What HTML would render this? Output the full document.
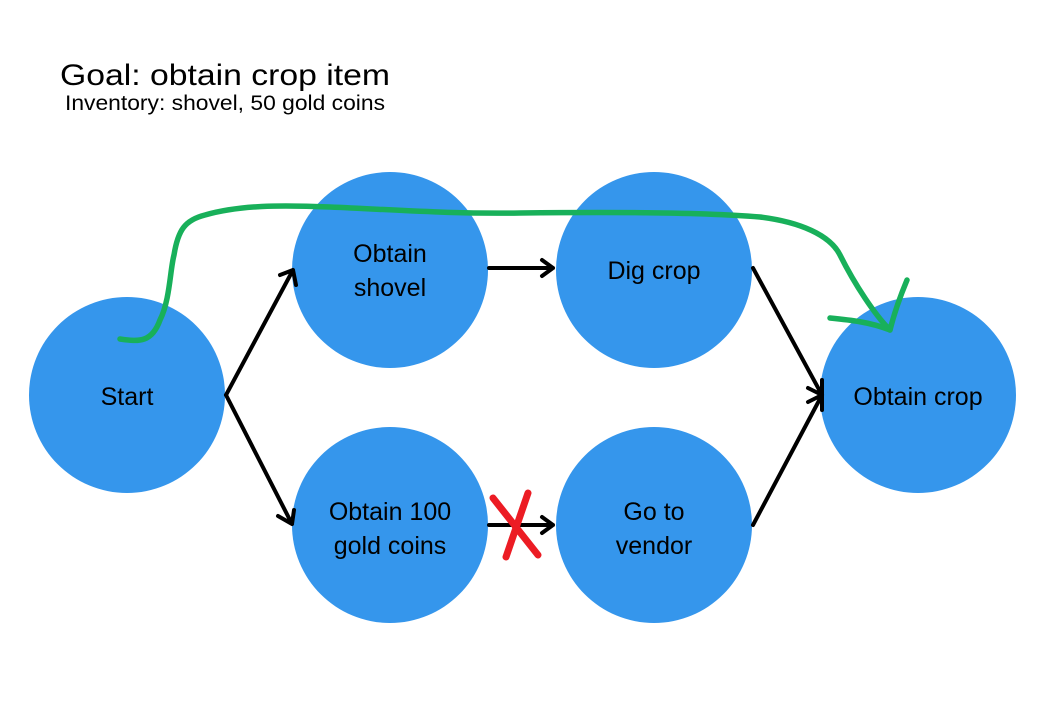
<!DOCTYPE html>
<html><head><style>
body{margin:0;background:#fff;}
svg{display:block;}
text{font-family:"Liberation Sans",sans-serif;fill:#000;}
</style></head><body>
<svg width="1061" height="718" viewBox="0 0 1061 718">
<text x="60" y="85" font-size="30" textLength="330" lengthAdjust="spacingAndGlyphs">Goal: obtain crop item</text>
<text x="65" y="110" font-size="21" textLength="320" lengthAdjust="spacingAndGlyphs">Inventory: shovel, 50 gold coins</text>
<g fill="#3596ec">
<circle cx="127" cy="395" r="98"/>
<circle cx="390" cy="270" r="98"/>
<circle cx="654" cy="270" r="98"/>
<circle cx="390" cy="525" r="98"/>
<circle cx="654" cy="525" r="98"/>
<circle cx="918" cy="395" r="98"/>
</g>
<g font-size="25" text-anchor="middle">
<text x="127" y="405">Start</text>
<text x="390" y="262">Obtain</text>
<text x="390" y="296">shovel</text>
<text x="654" y="279">Dig crop</text>
<text x="390" y="520">Obtain 100</text>
<text x="390" y="554">gold coins</text>
<text x="654" y="520">Go to</text>
<text x="654" y="554">vendor</text>
<text x="918" y="405">Obtain crop</text>
</g>
<g stroke="#000" stroke-width="4" fill="none" stroke-linecap="round" stroke-linejoin="round">
<path d="M226 395 L293 270 M280 275 L293 270 L296 285"/>
<path d="M226 395 L292 524 M278 516 L292 524 L294 510"/>
<path d="M489 268 L553 268 M542 260 L553 268 L542 276"/>
<path d="M489 525 L553 525 M542 517 L553 525 L542 533"/>
<path d="M753 268 L822 395 M808 388 L822 395 L822 380"/>
<path d="M753 525 L822 395 M808 402 L822 395 L822 410"/>
</g>
<g stroke="#ec1c24" stroke-width="7" stroke-linecap="round" fill="none">
<path d="M493 498 L538 555"/>
<path d="M528 493 L506 557"/>
</g>
<g stroke="#18b05a" stroke-width="5.5" fill="none" stroke-linecap="round" stroke-linejoin="round">
<path d="M120 339 C140 342 152 342 160 320 C170 300 170 270 174 255 C178 230 185 220 205 215 C240 205 280 205 330 207 C400 210 450 214 520 213 C600 212 700 212 760 217 C800 222 830 235 840 255 C855 285 875 315 890 330"/>
<path d="M830 318 C850 320 870 322 890 330 C895 310 902 292 907 280"/>
</g>
</svg>
</body></html>
